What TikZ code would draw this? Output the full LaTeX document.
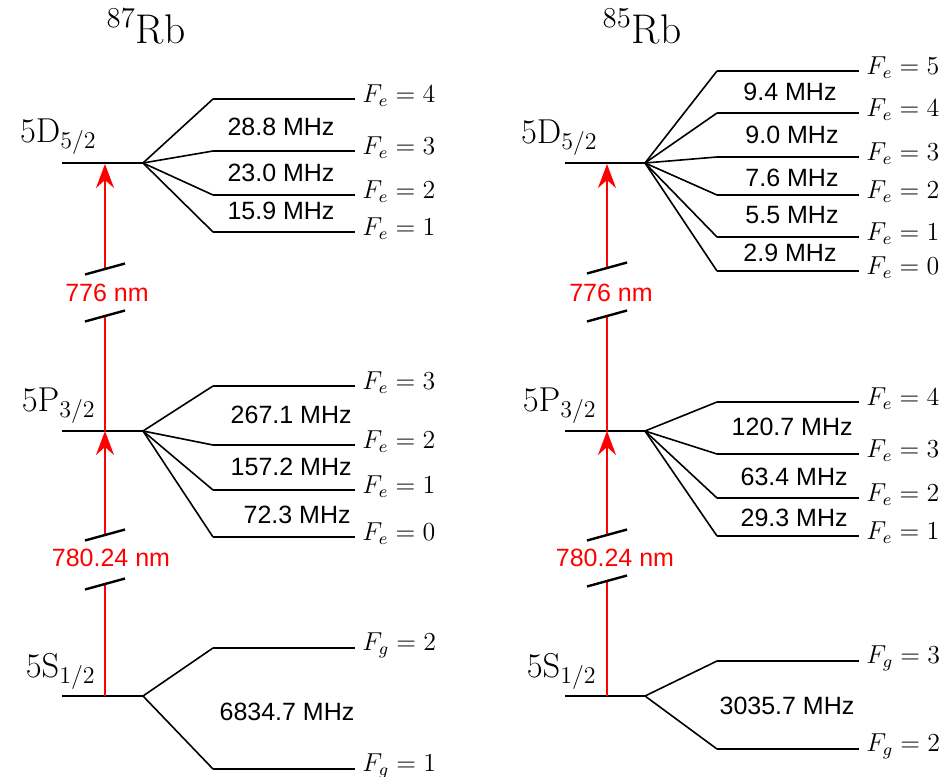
\documentclass[tikz,border=0pt]{standalone}
\usepackage{graphicx}
\usepackage{fontspec}
\newfontfamily\labelsans{Liberation Sans}
\usepackage{tikz}
\usetikzlibrary{arrows.meta}
\definecolor{beamRed}{rgb}{1,0,0}
% hyperfine sublevel: fan point, name, x start, y, label
\newcommand{\hfs}[5]{%
  \coordinate (#2) at (#3,#4);
  \coordinate (#2e) at ([xshift=71pt]#2);
  \draw[fan] (#1) -- (#2);
  \draw[lev] (#2) -- (#2e);
  \node[flbl] (#2l) at ([xshift=3.5pt,yshift=1.5pt]#2e) {\scalebox{1.08}{#5}};}
% axis break on the laser line
\newcommand{\brk}[1]{\draw[brk] ([shift={(-20,5.5)}]#1) -- ([shift={(20,-5.5)}]#1);}

\begin{document}
\begin{tikzpicture}[
  x=0.5pt,y=-0.5pt,
  lev/.style={line width=1.3pt},
  fan/.style={line width=0.8pt},
  beam/.style={draw=beamRed,line width=1pt},
  up/.style={beam,-{Stealth[length=12pt,width=9pt,inset=4pt]}},
  brk/.style={line width=1.2pt},
  flbl/.style={anchor=west,inner sep=0pt,font=\large},
  stlbl/.style={anchor=base east,inner sep=0pt,font=\LARGE},
  ttl/.style={anchor=base,inner sep=0pt,font=\huge},
  mhz/.style={inner sep=0pt,font=\labelsans\fontsize{12.5}{15}\selectfont},
  wl/.style={mhz,text=beamRed}
]
\useasboundingbox (0,0) rectangle (947,776);

%%% 87Rb
\node[ttl] (ttlA) at (146,43) {$^{87}$Rb};
% 5S1/2
\coordinate (aSw) at (62,696); \coordinate (aS) at (143,696);
\draw[lev] (aSw) -- (aS);
\node[stlbl] (aSl) at (96,677) {5S$_{1/2}$};
\hfs{aS}{aS2}{213}{648}{$F_g=2$}
\hfs{aS}{aS1}{213}{769}{$F_g=1$}
\node[mhz] (aS21) at (287,712) {6834.7 MHz};
% 5P3/2
\coordinate (aPw) at (62,431); \coordinate (aP) at (143,431);
\draw[lev] (aPw) -- (aP);
\node[stlbl] (aPl) at (96,411) {5P$_{3/2}$};
\hfs{aP}{aP3}{213}{386}{$F_e=3$}
\hfs{aP}{aP2}{213}{445}{$F_e=2$}
\hfs{aP}{aP1}{213}{490}{$F_e=1$}
\hfs{aP}{aP0}{213}{537}{$F_e=0$}
\node[mhz,anchor=east] (aP32) at (352,415) {267.1 MHz};
\node[mhz,anchor=east] (aP21) at (352,467) {157.2 MHz};
\node[mhz,anchor=east] (aP10) at (351,515) {72.3 MHz};
% 5D5/2
\coordinate (aDw) at (62,163); \coordinate (aD) at (143,163);
\draw[lev] (aDw) -- (aD);
\node[stlbl] (aDl) at (97,142) {5D$_{5/2}$};
\hfs{aD}{aD4}{213}{99}{$F_e=4$}
\hfs{aD}{aD3}{213}{151}{$F_e=3$}
\hfs{aD}{aD2}{213}{195}{$F_e=2$}
\hfs{aD}{aD1}{213}{232}{$F_e=1$}
\node[mhz] (aD43) at (281,127) {28.8 MHz};
\node[mhz] (aD32) at (281,173) {23.0 MHz};
\node[mhz] (aD21) at (281,211) {15.9 MHz};
% lasers
\coordinate (aSr) at (105,696); \coordinate (aPr) at (105,431); \coordinate (aDr) at (105,164);
\coordinate (aB1) at (105,584); \coordinate (aB2) at (105,535);
\coordinate (aB3) at (105,316); \coordinate (aB4) at (105,269);
\draw[beam] (aSr) -- (aB1); \draw[up] (aB2) -- (aPr);
\draw[beam] (aPr) -- (aB3); \draw[up] (aB4) -- (aDr);
\brk{aB1} \brk{aB2} \brk{aB3} \brk{aB4}
\node[wl] (aL780) at (111,558) {780.24 nm};
\node[wl] (aL776) at (107,293) {776 nm};

%%% 85Rb
\node[ttl] (ttlB) at (642,43) {$^{85}$Rb};
% 5S1/2
\coordinate (bSw) at (565,696); \coordinate (bS) at (645,696);
\draw[lev] (bSw) -- (bS);
\node[stlbl] (bSl) at (597,677) {5S$_{1/2}$};
\hfs{bS}{bS3}{717}{661}{$F_g=3$}
\hfs{bS}{bS2}{717}{749}{$F_g=2$}
\node[mhz] (bS32) at (787,706) {3035.7 MHz};
% 5P3/2
\coordinate (bPw) at (565,431); \coordinate (bP) at (645,431);
\draw[lev] (bPw) -- (bP);
\node[stlbl] (bPl) at (597,411) {5P$_{3/2}$};
\hfs{bP}{bP4}{717}{402}{$F_e=4$}
\hfs{bP}{bP3}{717}{454}{$F_e=3$}
\hfs{bP}{bP2}{717}{498}{$F_e=2$}
\hfs{bP}{bP1}{717}{536}{$F_e=1$}
\node[mhz,anchor=east] (bP43) at (853,427) {120.7 MHz};
\node[mhz,anchor=east] (bP32) at (848,477) {63.4 MHz};
\node[mhz,anchor=east] (bP21) at (848,518) {29.3 MHz};
% 5D5/2
\coordinate (bDw) at (565,163); \coordinate (bD) at (645,163);
\draw[lev] (bDw) -- (bD);
\node[stlbl] (bDl) at (598,143) {5D$_{5/2}$};
\hfs{bD}{bD5}{717}{71}{$F_e=5$}
\hfs{bD}{bD4}{717}{113}{$F_e=4$}
\hfs{bD}{bD3}{717}{157}{$F_e=3$}
\hfs{bD}{bD2}{717}{195}{$F_e=2$}
\hfs{bD}{bD1}{717}{237}{$F_e=1$}
\hfs{bD}{bD0}{717}{271}{$F_e=0$}
\node[mhz] (bD54) at (790,92) {9.4 MHz};
\node[mhz] (bD43) at (792,135) {9.0 MHz};
\node[mhz] (bD32) at (792,178) {7.6 MHz};
\node[mhz] (bD21) at (792,215) {5.5 MHz};
\node[mhz] (bD10) at (790,253) {2.9 MHz};
% lasers
\coordinate (bSr) at (607,696); \coordinate (bPr) at (607,431); \coordinate (bDr) at (607,164);
\coordinate (bB1) at (607,581); \coordinate (bB2) at (607,535);
\coordinate (bB3) at (607,316); \coordinate (bB4) at (607,268);
\draw[beam] (bSr) -- (bB1); \draw[up] (bB2) -- (bPr);
\draw[beam] (bPr) -- (bB3); \draw[up] (bB4) -- (bDr);
\brk{bB1} \brk{bB2} \brk{bB3} \brk{bB4}
\node[wl] (bL780) at (615,558) {780.24 nm};
\node[wl] (bL776) at (611,293) {776 nm};
\end{tikzpicture}
\end{document}
